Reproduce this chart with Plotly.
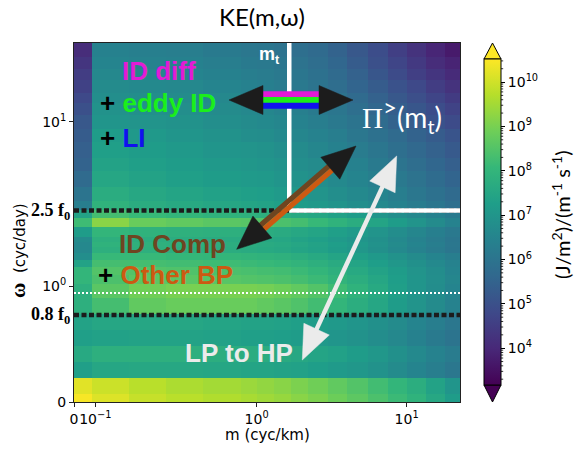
import numpy as np
import plotly.graph_objects as go

# ------------------------------------------------------------------ data
# bin edges of the KE(m, omega) spectrum
m_edges = [0, 0.083, 0.258, 0.432, 0.606, 0.782, 1.0, 1.3, 1.7, 2.2, 3.0, 4.0,
           5.5, 7.5, 10, 13.5, 18, 22.7]                      # cyc/km
omega_edges = [0, 0.069, 0.207, 0.345, 0.483, 0.621, 0.759, 0.897, 1.035, 1.173,
               1.31, 1.45, 1.59, 1.72, 1.86, 2.0, 2.3, 2.6, 2.9, 3.3, 4, 5, 6,
               7.5, 9, 11, 13, 15, 18, 21, 25, 30.3]           # cyc/day

# log10 KE, rows listed from the TOP (highest omega) to the bottom (omega = 0)
log_ke_top_down = [
    [4.1, 6.4, 6.35, 6.3, 6.2, 6.1, 6.05, 5.95, 5.85, 5.7, 5.5, 5.2, 4.9, 4.55, 4.25, 3.95, 3.7],
    [4.3, 6.5, 6.45, 6.4, 6.3, 6.2, 6.15, 6.05, 5.95, 5.8, 5.6, 5.3, 5.0, 4.7, 4.4, 4.1, 3.9],
    [4.5, 6.6, 6.55, 6.5, 6.4, 6.3, 6.25, 6.15, 6.05, 5.9, 5.7, 5.45, 5.15, 4.85, 4.55, 4.3, 4.05],
    [4.6, 6.7, 6.65, 6.6, 6.5, 6.4, 6.35, 6.25, 6.15, 6.0, 5.8, 5.55, 5.3, 5.05, 4.8, 4.5, 4.25],
    [4.8, 6.8, 6.75, 6.7, 6.6, 6.5, 6.45, 6.35, 6.25, 6.1, 5.95, 5.7, 5.45, 5.2, 4.95, 4.7, 4.45],
    [5.0, 6.9, 6.85, 6.8, 6.7, 6.6, 6.55, 6.45, 6.35, 6.2, 6.05, 5.85, 5.6, 5.35, 5.15, 4.9, 4.65],
    [5.2, 7.0, 6.95, 6.9, 6.8, 6.7, 6.65, 6.55, 6.45, 6.3, 6.15, 6.0, 5.75, 5.5, 5.3, 5.05, 4.85],
    [5.3, 7.2, 7.1, 7.0, 6.9, 6.8, 6.75, 6.65, 6.55, 6.45, 6.3, 6.1, 5.9, 5.7, 5.5, 5.3, 5.1],
    [5.4, 7.3, 7.2, 7.1, 7.0, 6.95, 6.9, 6.8, 6.7, 6.55, 6.4, 6.25, 6.05, 5.85, 5.65, 5.45, 5.25],
    [5.5, 7.4, 7.3, 7.2, 7.1, 7.05, 7.0, 6.9, 6.8, 6.7, 6.55, 6.4, 6.2, 6.0, 5.8, 5.6, 5.4],
    [5.7, 7.5, 7.4, 7.3, 7.2, 7.15, 7.1, 7.0, 6.9, 6.8, 6.65, 6.5, 6.35, 6.15, 5.95, 5.75, 5.55],
    [6.0, 7.7, 7.55, 7.45, 7.35, 7.3, 7.25, 7.15, 7.05, 6.95, 6.8, 6.65, 6.5, 6.3, 6.1, 5.9, 5.7],
    [6.3, 7.9, 7.7, 7.6, 7.5, 7.45, 7.4, 7.3, 7.2, 7.1, 6.95, 6.8, 6.65, 6.45, 6.25, 6.05, 5.85],
    [7.4, 8.3, 8.1, 8.0, 7.9, 7.85, 7.8, 7.7, 7.6, 7.5, 7.35, 7.2, 7.0, 6.8, 6.6, 6.4, 6.2],
    [8.2, 9.2, 8.8, 8.7, 8.6, 8.55, 8.5, 8.4, 8.3, 8.1, 7.9, 7.7, 7.45, 7.2, 6.95, 6.7, 6.45],
    [7.2, 8.0, 7.9, 7.85, 7.8, 7.75, 7.7, 7.65, 7.55, 7.45, 7.3, 7.15, 6.95, 6.75, 6.55, 6.35, 6.15],
    [6.7, 7.8, 7.75, 7.7, 7.65, 7.6, 7.55, 7.5, 7.4, 7.3, 7.15, 7.0, 6.85, 6.65, 6.45, 6.25, 6.05],
    [6.6, 7.9, 7.85, 7.8, 7.75, 7.7, 7.65, 7.6, 7.5, 7.4, 7.25, 7.1, 6.9, 6.7, 6.5, 6.3, 6.1],
    [6.6, 7.8, 7.8, 7.75, 7.7, 7.65, 7.6, 7.55, 7.45, 7.35, 7.2, 7.05, 6.85, 6.65, 6.45, 6.25, 6.05],
    [6.8, 8.1, 8.1, 8.05, 8.0, 7.95, 7.9, 7.85, 7.75, 7.6, 7.45, 7.3, 7.1, 6.9, 6.7, 6.5, 6.3],
    [7.4, 8.3, 8.3, 8.25, 8.2, 8.15, 8.1, 8.05, 7.95, 7.8, 7.65, 7.45, 7.25, 7.05, 6.85, 6.65, 6.45],
    [8.0, 8.5, 8.5, 8.45, 8.4, 8.35, 8.3, 8.25, 8.15, 8.0, 7.8, 7.6, 7.4, 7.2, 6.95, 6.75, 6.5],
    [8.0, 8.4, 8.6, 8.6, 8.55, 8.5, 8.45, 8.4, 8.3, 8.15, 7.95, 7.75, 7.5, 7.25, 7.0, 6.8, 6.55],
    [7.8, 8.6, 8.9, 9.0, 9.0, 9.0, 8.95, 8.85, 8.7, 8.5, 8.2, 7.9, 7.6, 7.3, 7.0, 6.75, 6.5],
    [7.8, 8.3, 8.7, 8.8, 8.8, 8.8, 8.7, 8.6, 8.45, 8.25, 8.0, 7.75, 7.5, 7.2, 6.95, 6.7, 6.45],
    [7.4, 7.5, 7.5, 7.5, 7.45, 7.4, 7.4, 7.35, 7.3, 7.2, 7.1, 7.0, 6.85, 6.7, 6.5, 6.3, 6.1],
    [7.3, 7.35, 7.4, 7.4, 7.35, 7.3, 7.3, 7.25, 7.2, 7.1, 7.0, 6.9, 6.75, 6.6, 6.4, 6.2, 6.0],
    [7.6, 7.8, 7.8, 7.8, 7.75, 7.7, 7.7, 7.65, 7.55, 7.45, 7.35, 7.2, 7.05, 6.85, 6.65, 6.45, 6.25],
    [7.3, 7.5, 7.55, 7.55, 7.5, 7.45, 7.45, 7.4, 7.35, 7.25, 7.15, 7.05, 6.9, 6.7, 6.5, 6.3, 6.1],
    [10.2, 9.95, 9.75, 9.6, 9.5, 9.4, 9.3, 9.2, 9.05, 8.9, 8.7, 8.5, 8.25, 8.0, 7.75, 7.4, 7.0],
    [10.45, 10.15, 9.9, 9.75, 9.65, 9.55, 9.45, 9.35, 9.2, 9.05, 8.85, 8.65, 8.4, 8.15, 7.9, 7.55, 7.2],
]

color_log_min, color_log_max = 3.17, 10.52
cbar_decades = [4, 5, 6, 7, 8, 9, 10]

x_tick_values = [0, 0.1, 1, 10]
x_tick_labels = ["0", "10<sup>\u22121</sup>", "10<sup>0</sup>", "10<sup>1</sup>"]
y_tick_values = [0, 1, 10]
y_tick_labels = ["0", "10<sup>0</sup>", "10<sup>1</sup>"]

m_t = 1.65                  # cyc/km, transition wavenumber
omega_2p5f0 = 2.89          # cyc/day
omega_0p8f0 = 0.75          # cyc/day
omega_dotted = 0.94         # cyc/day

# ------------------------------------------------------------------ symlog axes
LIN_X, SCALE_X = 0.782, 1.111
LIN_Y, SCALE_Y = 1.0, 0.707


def sx(m):
    m = np.asarray(m, dtype=float)
    return np.where(m <= LIN_X, m * SCALE_X / LIN_X,
                    SCALE_X + np.log10(np.maximum(m, 1e-12) / LIN_X))


def sy(w):
    w = np.asarray(w, dtype=float)
    return np.where(w <= LIN_Y, w * SCALE_Y / LIN_Y,
                    SCALE_Y + np.log10(np.maximum(w, 1e-12) / LIN_Y))


z = np.array(log_ke_top_down[::-1])
xu = sx(m_edges)
yv = sy(omega_edges)

W, H = 577, 450
PL, PR, PT, PB = 74, 460, 43, 402
CB_X0, CB_X1, CB_TOP, CB_BOT = 484, 501, 59, 385


def P(x, y):
    return (x - PL) / (PR - PL), (PB - y) / (PB - PT)


fig = go.Figure()
fig.add_trace(go.Heatmap(
    x=xu, y=yv, z=z, colorscale="Viridis", zmin=color_log_min, zmax=color_log_max,
    hoverinfo="skip",
    colorbar=dict(
        x=P(CB_X0, 0)[0], xanchor="left", xpad=0, ypad=0,
        y=P(0, (CB_TOP + CB_BOT) / 2)[1], yanchor="middle", lenmode="pixels",
        len=CB_BOT - CB_TOP, thickness=CB_X1 - CB_X0, outlinewidth=1, outlinecolor="black",
        tickvals=cbar_decades, ticktext=[f"10<sup>{d}</sup>" for d in cbar_decades],
        ticks="outside", ticklen=4, tickcolor="black",
        tickfont=dict(family="DejaVu Sans", size=14, color="black"),
    ),
))

shapes = []

# reference lines
for w in (omega_2p5f0, omega_0p8f0):
    yy = float(sy(w))
    shapes.append(dict(type="line", xref="paper", yref="y", x0=0, x1=1, y0=yy, y1=yy,
                       line=dict(color="#1c1c1c", width=4.5, dash="5px,2.5px"), layer="above"))
yy = float(sy(omega_dotted))
shapes.append(dict(type="line", xref="paper", yref="y", x0=0, x1=1, y0=yy, y1=yy,
                   line=dict(color="white", width=2, dash="2px,2px"), layer="above"))
xm = float(sx(m_t))
y25 = float(sy(omega_2p5f0))
shapes.append(dict(type="line", xref="x", yref="y", x0=xm, x1=xm, y0=y25, y1=float(yv[-1]),
                   line=dict(color="white", width=4.5), layer="above"))
shapes.append(dict(type="line", xref="x", yref="y", x0=xm, x1=float(xu[-1]), y0=y25, y1=y25,
                   line=dict(color="white", width=4.5), layer="above"))


def seg(p1, p2, color, w):
    a, b = P(*p1), P(*p2)
    return dict(type="line", xref="paper", yref="paper", x0=a[0], y0=a[1], x1=b[0], y1=b[1],
                line=dict(color=color, width=w), layer="above")


def tri(pts, color, outline=None, lw=0.5):
    path = "M " + " L ".join("{:.5f},{:.5f}".format(*P(x, y)) for x, y in pts) + " Z"
    return dict(type="path", xref="paper", yref="paper", path=path, fillcolor=color,
                line=dict(color=outline or color, width=lw), layer="above")


def head(tip, toward, color, length=34, half=14.5):
    tx, ty = tip
    dx, dy = tip[0] - toward[0], tip[1] - toward[1]
    n = np.hypot(dx, dy)
    dx, dy = dx / n, dy / n
    bx, by = tx - length * dx, ty - length * dy
    px, py = -dy, dx
    return tri([(tx, ty), (bx + half * px, by + half * py), (bx - half * px, by - half * py)], color)


BLACK = "#1c1c1c"
# horizontal double arrow with three colored stripes
L_tip, R_tip = (229, 100), (353, 100)
for yc, col in ((94.3, "#e21bd6"), (100.0, "#1bef1b"), (105.8, "#1111ee")):
    shapes.append(seg((260, yc), (322, yc), col, 5.9))
shapes.append(head(L_tip, R_tip, BLACK))
shapes.append(head(R_tip, L_tip, BLACK))

# diagonal two-tone double arrow
A, B = np.array([236.7, 249.3]), np.array([356.0, 146.0])
d = (B - A) / np.linalg.norm(B - A)
nrm = np.array([-d[1], d[0]])
s0, s1 = A + 28 * d, B - 28 * d
for off, col in ((-2.6, "#6e4521"), (2.6, "#cc5a12")):
    shapes.append(seg(tuple(s0 + off * nrm), tuple(s1 + off * nrm), col, 5.2))
shapes.append(head(tuple(A), tuple(B), BLACK))
shapes.append(head(tuple(B), tuple(A), BLACK))

# white double arrow
C, D = np.array([302.3, 360.0]), np.array([396.7, 156.0])
e = (D - C) / np.linalg.norm(D - C)
shapes.append(seg(tuple(C + 28 * e), tuple(D - 28 * e), "#ebebeb", 4.5))
shapes.append(head(tuple(C), tuple(D), "#ebebeb", half=14))
shapes.append(head(tuple(D), tuple(C), "#ebebeb", half=14))

# colorbar extension triangles
mid = (CB_X0 + CB_X1) / 2
shapes.append(tri([(CB_X0, CB_TOP), (CB_X1, CB_TOP), (mid, 43)], "#fde725", "black", 1))
shapes.append(tri([(CB_X0, CB_BOT), (CB_X1, CB_BOT), (mid, 402)], "#440154", "black", 1))

# colorbar minor (log) ticks
for dec in range(3, 11):
    for k in range(2, 10):
        lv = dec + np.log10(k)
        if color_log_min < lv < color_log_max:
            ypx = CB_BOT - (lv - color_log_min) / (color_log_max - color_log_min) * (CB_BOT - CB_TOP)
            shapes.append(seg((CB_X1, ypx), (CB_X1 + 2.2, ypx), "black", 0.8))

ann = []


def text(x, y, s, size, color="black", family="Liberation Sans", bold=False,
         xanchor="left", yanchor="middle", angle=0):
    px, py = P(x, y)
    ann.append(dict(x=px, y=py, xref="paper", yref="paper", text=s, showarrow=False,
                    xanchor=xanchor, yanchor=yanchor, textangle=angle,
                    font=dict(family=family, size=size, color=color,
                              weight="bold" if bold else "normal")))


text(262, 17, "KE(m,\u03c9)", 24, family="Lato", xanchor="center")
text(120, 71, "ID diff", 26, "#e21bd6", bold=True)
text(97.5, 103, "+ <span style='color:#1bef1b'>eddy ID</span>", 26, "black", bold=True)
text(97.5, 138, "+ <span style='color:#1111ee'>LI</span>", 26, "black", bold=True)
text(257, 55, "m<sub>t</sub>", 18, "white", bold=True)
text(360, 115, "<span style='font-family:Liberation Serif;font-size:29px'>\u03a0</span>"
     "<sup><span style='font-size:24px'>&gt;</span></sup>(m<sub>t</sub>)",
     28, "white", family="Lato")
text(117, 244, "ID Comp", 26, "#6e4521", bold=True)
text(95.5, 275, "+ <span style='color:#cc5a12'>Other BP</span>", 26, "black", bold=True)
text(183, 353, "LP to HP", 26, "#ebebeb", bold=True)

text(72, 211, "2.5 f<sub>0</sub>", 18, family="Liberation Serif", bold=True, xanchor="right")
text(72, 315, "0.8 f<sub>0</sub>", 18, family="Liberation Serif", bold=True, xanchor="right")

text(267, 435, "m (cyc/km)", 15, family="DejaVu Sans", xanchor="center")
text(18, 251, "<span style='font-family:Liberation Serif;font-weight:bold;font-size:21px'>\u03c9</span>"
     "  (cyc/day)", 15, family="DejaVu Sans", xanchor="center", angle=-90)
text(561, 215, "(J/m<sup>2</sup>)/(m<sup>-1</sup> s<sup>-1</sup>)", 20, family="Lato",
     xanchor="center", angle=-90)

axis_common = dict(showgrid=False, zeroline=False, showline=True, mirror=True,
                   linecolor="#222", linewidth=1, ticks="outside", ticklen=4,
                   tickcolor="#222", tickangle=0,
                   tickfont=dict(family="DejaVu Sans", size=14, color="black"))

fig.update_layout(
    width=W, height=H,
    margin=dict(l=PL, r=W - PR, t=PT, b=H - PB, autoexpand=False),
    paper_bgcolor="white", plot_bgcolor="white",
    xaxis=dict(range=[0, float(xu[-1])], tickmode="array",
               tickvals=sx(x_tick_values).tolist(), ticktext=x_tick_labels, **axis_common),
    yaxis=dict(range=[0, float(yv[-1])], tickmode="array",
               tickvals=sy(y_tick_values).tolist(), ticktext=y_tick_labels, **axis_common),
    shapes=shapes, annotations=ann, showlegend=False,
)

fig.write_html("out.html", config={"displayModeBar": False},
               post_script="document.body.style.margin='0px';document.body.style.padding='0px';")
